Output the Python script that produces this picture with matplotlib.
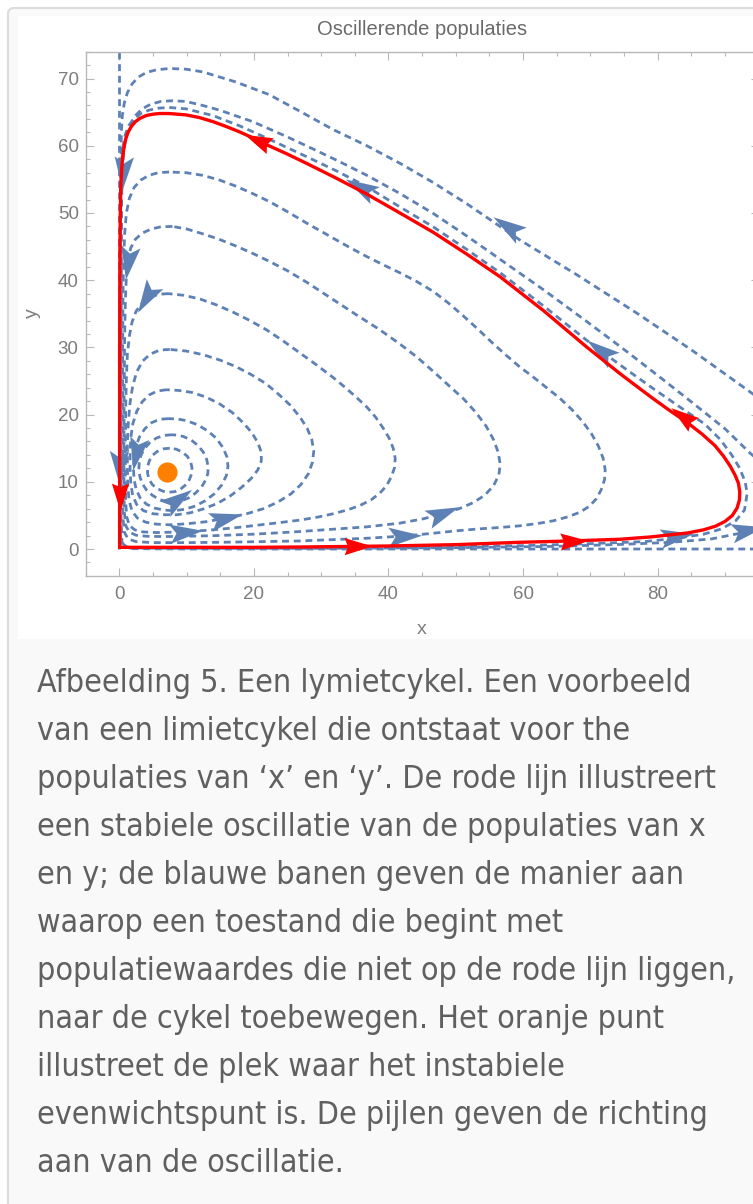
import numpy as np
import matplotlib.pyplot as plt
from matplotlib.markers import MarkerStyle
from matplotlib.path import Path
from matplotlib.transforms import Affine2D
from matplotlib.patches import FancyBboxPatch, Rectangle
from matplotlib.ticker import MultipleLocator

plt.rcParams['lines.scale_dashes'] = False

# evenwichtspunt
EQ_X, EQ_Y = 7.1, 11.5

# limietcykel (rood), tegen de klok in
CYCLE = [(0.05, 0.25), (10, 0.25), (20, 0.25), (27, 0.3), (40, 0.45), (50, 0.65),
         (59.5, 1.0), (67, 1.2), (74.4, 1.45), (79, 1.8), (81.8, 2.1), (84.5, 2.4),
         (86.8, 2.85), (88.6, 3.4), (90.0, 4.1), (91.1, 5.0), (91.8, 6.1), (92.15, 7.3),
         (92.2, 8.5), (92.0, 9.8), (91.5, 11.0), (90.8, 12.3), (89.8, 13.8), (88.5, 15.4),
         (86.6, 17.1), (84.3, 18.9), (81.8, 20.6), (79.3, 22.4), (76.9, 24.2), (74.4, 26.1),
         (71.9, 28.1), (69.4, 30.1), (66.2, 32.8), (63.0, 35.5), (59.8, 38.0), (56.6, 40.5),
         (51.6, 43.9), (46.7, 47.1), (41.7, 50.0), (36.8, 52.8), (32.4, 55.1), (28.0, 57.3),
         (24.9, 58.8), (21.8, 60.2), (19.8, 61.2), (17.8, 62.1), (15.8, 62.9), (13.9, 63.6),
         (11.9, 64.2), (9.9, 64.6), (7.4, 64.8), (6.0, 64.8), (5.0, 64.7), (4.0, 64.5),
         (3.1, 64.1), (2.4, 63.6), (1.8, 62.9), (1.3, 62.0), (0.95, 61.0), (0.7, 59.8),
         (0.5, 58.3), (0.35, 56.5), (0.22, 54.0), (0.15, 50.0), (0.1, 45.0), (0.07, 38.0),
         (0.05, 30.0), (0.05, 15.0), (0.05, 0.25)]

# banen binnen de cykel
RING_A = [(7.5, 15.0), (6.5, 14.9), (5.6, 14.5), (4.9, 13.9), (4.45, 13.1), (4.2, 12.2),
          (4.2, 11.3), (4.4, 10.4), (4.9, 9.6), (5.6, 9.0), (6.5, 8.6), (7.4, 8.45),
          (8.3, 8.55), (9.1, 8.9), (9.8, 9.5), (10.4, 10.3), (10.75, 11.2), (10.8, 12.1),
          (10.6, 13.0), (10.1, 13.8), (9.4, 14.4), (8.5, 14.85), (7.5, 15.0)]
RING_B = [(7.8, 17.0), (6.6, 16.9), (5.5, 16.5), (4.5, 15.8), (3.7, 14.9), (3.2, 13.9),
          (2.95, 12.8), (2.9, 11.7), (3.1, 10.6), (3.5, 9.6), (4.1, 8.7), (4.9, 8.0),
          (5.9, 7.4), (7.0, 7.05), (8.1, 6.95), (9.2, 7.15), (10.3, 7.6), (11.3, 8.3),
          (12.2, 9.2), (12.8, 10.2), (13.15, 11.2), (13.2, 12.2), (13.0, 13.3), (12.5, 14.4),
          (11.7, 15.4), (10.7, 16.2), (9.5, 16.75), (8.6, 16.95), (7.8, 17.0)]
RING_C = [(7.3, 19.4), (6.0, 19.3), (4.8, 18.8), (3.8, 17.9), (3.0, 16.7), (2.5, 15.3),
          (2.2, 13.7), (2.1, 12.0), (2.2, 10.3), (2.5, 8.9), (3.1, 7.6), (4.0, 6.7),
          (5.2, 6.1), (6.6, 5.8), (8.1, 5.7), (9.7, 5.9), (11.3, 6.4), (12.8, 7.2),
          (14.1, 8.2), (15.2, 9.5), (15.9, 10.9), (16.15, 12.3), (16.0, 13.7), (15.4, 15.1),
          (14.4, 16.5), (13.1, 17.6), (11.6, 18.5), (10.0, 19.1), (8.6, 19.35), (7.3, 19.4)]
RING_D = [(7.0, 23.7), (5.6, 23.5), (4.4, 22.9), (3.4, 21.9), (2.6, 20.5), (2.0, 18.6),
          (1.7, 16.5), (1.6, 14.3), (1.6, 12.0), (1.7, 9.8), (2.0, 7.9), (2.6, 6.6),
          (3.6, 5.7), (5.0, 5.25), (6.7, 5.1), (8.6, 5.1), (10.6, 5.4), (12.6, 6.0),
          (14.6, 6.8), (16.5, 7.9), (18.2, 9.2), (19.6, 10.5), (20.6, 11.8), (21.1, 13.1),
          (21.1, 14.4), (20.6, 15.8), (19.7, 17.3), (18.4, 18.8), (16.8, 20.3), (14.9, 21.6),
          (12.9, 22.6), (10.8, 23.3), (8.8, 23.6), (7.0, 23.7)]
RING_E = [(7.5, 29.7), (6.0, 29.6), (4.6, 29.0), (3.5, 28.0), (2.6, 26.4), (2.0, 24.3),
          (1.6, 21.8), (1.35, 18.9), (1.2, 15.8), (1.2, 12.6), (1.25, 9.6), (1.45, 7.3),
          (1.9, 5.6), (2.7, 4.6), (3.9, 4.0), (5.5, 3.7), (7.5, 3.6), (10.0, 3.75),
          (12.8, 4.05), (15.9, 4.6), (18.8, 5.2), (21.4, 6.0), (23.6, 7.0), (25.5, 8.2),
          (27.0, 9.6), (28.1, 11.2), (28.7, 12.9), (28.9, 14.6), (28.6, 16.3), (27.9, 18.0),
          (26.8, 19.7), (25.4, 21.4), (23.7, 23.0), (21.8, 24.6), (19.7, 25.9), (17.4, 27.1),
          (15.0, 28.1), (12.5, 28.9), (10.0, 29.45), (7.5, 29.7)]
RING_F = [(7.3, 38.0), (5.8, 37.9), (4.5, 37.4), (3.4, 36.6), (2.5, 35.4), (1.9, 33.8),
          (1.5, 31.7), (1.2, 29.0), (1.05, 25.5), (0.95, 21.0), (0.9, 16.0), (0.9, 11.0),
          (0.95, 7.0), (1.1, 4.8), (1.5, 3.5), (2.3, 2.85), (3.5, 2.55), (5.5, 2.45),
          (7.8, 2.5), (9.9, 2.6), (12.5, 2.75), (15.0, 2.95), (18.0, 3.25), (21.0, 3.6),
          (24.0, 3.95), (26.8, 4.3), (29.5, 4.75), (31.8, 5.25), (34.0, 5.85), (35.8, 6.5),
          (37.4, 7.3), (38.7, 8.3), (39.7, 9.4), (40.4, 10.7), (40.9, 12.1), (41.0, 13.5),
          (40.7, 15.0), (40.1, 16.5), (39.2, 18.0), (38.1, 19.6), (36.8, 21.1), (35.2, 22.6),
          (33.5, 24.1), (31.8, 25.5), (29.3, 27.4), (26.8, 29.2), (24.3, 31.0), (21.9, 32.6),
          (19.4, 34.0), (17.0, 35.2), (14.5, 36.3), (12.0, 37.2), (9.6, 37.75), (7.3, 38.0)]
RING_G = [(7.9, 48.0), (6.2, 47.95), (4.7, 47.6), (3.4, 47.0), (2.4, 46.1), (1.7, 44.8),
          (1.3, 43.0), (1.05, 40.5), (0.9, 37.0), (0.8, 32.0), (0.75, 26.0), (0.7, 20.0),
          (0.7, 14.0), (0.7, 9.0), (0.75, 5.5), (0.95, 3.5), (1.5, 2.5), (2.5, 2.05),
          (4.0, 1.9), (6.5, 1.85), (9.9, 1.9), (14.5, 2.0), (19.8, 2.2), (23.5, 2.4),
          (26.8, 2.6), (31.8, 2.95), (36.8, 3.3), (41.7, 3.85), (45.2, 4.5), (48.1, 5.3),
          (50.5, 6.0), (52.6, 6.9), (54.3, 8.0), (55.6, 9.4), (56.4, 11.0), (56.6, 12.6),
          (56.3, 14.4), (55.6, 16.3), (54.5, 18.3), (53.0, 20.3), (51.2, 22.3), (49.1, 24.2),
          (46.8, 26.3), (44.3, 28.5), (41.7, 30.5), (38.6, 32.7), (35.3, 34.8), (31.8, 37.1),
          (28.0, 39.6), (25.0, 41.4), (22.3, 42.8), (19.8, 44.0), (17.3, 45.1), (14.8, 46.1),
          (12.4, 46.9), (10.1, 47.6), (7.9, 48.0)]
RING_H = [(7.4, 56.1), (5.8, 56.0), (4.4, 55.6), (3.2, 54.9), (2.2, 53.8), (1.5, 52.2),
          (1.05, 50.0), (0.8, 47.0), (0.65, 43.0), (0.55, 38.0), (0.5, 30.0), (0.5, 22.0),
          (0.5, 14.0), (0.5, 8.0), (0.55, 4.5), (0.75, 2.5), (1.3, 1.5), (2.5, 1.1),
          (5.0, 0.95), (10.0, 0.95), (15.0, 1.0), (21.0, 1.1), (26.8, 1.2), (31.8, 1.4),
          (36.8, 1.6), (42.5, 1.95), (46.7, 2.35), (50.0, 2.7), (53.5, 3.0), (56.5, 3.2),
          (59.5, 3.45), (62.2, 3.8), (64.5, 4.2), (66.7, 4.8), (68.5, 5.5), (69.9, 6.4),
          (70.9, 7.5), (71.6, 8.8), (72.1, 10.3), (72.2, 11.8), (71.9, 13.5), (71.2, 15.3),
          (70.2, 17.1), (68.9, 18.9), (67.3, 20.7), (65.5, 22.4), (63.5, 24.0), (61.5, 25.6),
          (59.5, 27.1), (57.4, 28.9), (55.3, 30.8), (53.2, 32.8), (51.1, 34.7), (48.9, 36.6),
          (46.7, 38.3), (44.2, 39.8), (41.7, 41.1), (39.2, 42.3), (36.8, 43.5), (34.0, 45.0),
          (31.0, 46.7), (28.0, 48.4), (24.8, 50.3), (22.3, 51.7), (19.8, 52.9), (17.3, 54.0),
          (14.9, 54.9), (12.4, 55.6), (9.9, 56.0), (7.4, 56.1)]

# banen buiten de cykel
T1 = [(97, 21.0), (93.7, 23.4), (85.2, 29.5), (76.9, 35.1), (68.0, 40.8), (59.5, 46.0),
      (51.6, 51.4), (46.7, 54.5), (41.7, 57.4), (36.8, 60.0), (31.8, 62.4), (26.9, 65.1),
      (22.3, 67.6), (17.3, 69.5), (12.4, 71.0), (9.9, 71.4), (7.4, 71.5), (5.5, 71.3),
      (4.0, 70.9), (2.8, 70.2), (1.9, 69.2), (1.2, 67.9), (0.75, 66.4), (0.45, 64.5),
      (0.3, 62.0), (0.2, 55.0), (0.15, 40.0), (0.1, 20.0), (0.1, 5.0), (0.2, 1.0),
      (1.5, 0.05), (10, 0.0), (40, 0.0), (70, 0.0), (97, 0.0)]
T2 = [(97, 11.5), (93.7, 14.3), (90.0, 17.9), (85.0, 21.9), (80.3, 25.6), (75.0, 29.7),
      (69.4, 33.9), (63.0, 38.6), (56.6, 43.1), (51.6, 46.6), (46.7, 49.9), (41.7, 52.9),
      (36.8, 55.6), (32.4, 57.8), (28.0, 59.9), (24.8, 61.4), (19.8, 63.6), (14.9, 65.3),
      (12.4, 66.0), (9.9, 66.6), (7.9, 66.7), (6.2, 66.6), (4.7, 66.2), (3.4, 65.5),
      (2.4, 64.5), (1.6, 63.2), (1.05, 61.6), (0.7, 59.5), (0.45, 56.5), (0.35, 52.0),
      (0.3, 40.0), (0.25, 20.0), (0.25, 5.0), (0.4, 0.9), (1.5, 0.15), (10, 0.1), (30, 0.1),
      (50, 0.2), (65, 0.4), (75, 0.7), (82, 1.0), (88, 1.5), (92, 2.3), (97, 3.6)]
T3 = [(40, 0.2), (60, 0.5), (70, 0.8), (78, 1.1), (82.8, 1.6), (86.8, 2.2), (89.5, 3.0),
      (91.6, 4.2), (92.9, 5.8), (93.3, 8.3), (93.0, 10.0), (92.2, 12.0), (91.0, 14.0),
      (89.3, 16.3), (87.0, 18.6), (84.5, 20.3), (79.3, 23.9), (74.4, 27.4), (69.4, 31.1),
      (63.0, 36.2), (56.6, 41.1), (51.6, 44.6), (46.7, 47.9), (41.7, 50.9), (36.8, 53.9),
      (32.4, 56.2), (28.0, 58.3), (21.8, 61.2), (17.8, 63.0), (13.9, 64.5), (9.9, 65.5),
      (7.4, 65.7), (5.8, 65.6), (4.4, 65.3), (3.2, 64.8), (2.2, 64.0), (1.4, 63.0),
      (0.9, 61.7), (0.55, 59.9), (0.35, 57.5), (0.25, 54.0), (0.2, 50.0), (0.2, 35.0)]
Y_AXIS = [(0, 74), (0, 0)]

# pijlpunten: positie en richting
BLUE_AX = [57.6, 35.8, 71.4, 0.6, 1.3, 4.0, 2.5, 0.0, 8.7, 15.9, 9.9, 48.1, 42.5, 82.8, 93.4]
BLUE_AY = [48.0, 53.9, 29.6, 56.0, 42.5, 37.3, 14.2, 12.2, 7.5, 4.6, 2.6, 5.3, 1.9, 2.0, 2.8]
BLUE_DX = [-1, -1, -1, -0.05, -0.15, -0.6, -0.2, 0, 1, 1, 1, 1, 1, 1, 1]
BLUE_DY = [0.66, 0.55, 0.75, -1, -1, -1, -1, -1, 0.7, 0.25, 0.1, 0.4, 0.05, 0.15, 0.2]

RED_AX = [20.5, 0.05, 35.5, 67.5, 83.6]
RED_AY = [60.8, 7.8, 0.4, 1.2, 19.8]
RED_DX = [-1, 0, 1, 1, -1]
RED_DY = [0.45, -1, 0.01, 0.04, 0.75]

X_TICKS = [0, 20, 40, 60, 80]
Y_TICKS = [0, 10, 20, 30, 40, 50, 60, 70]

CAPTION = [
    "Afbeelding 5. Een lymietcykel. Een voorbeeld",
    "van een limietcykel die ontstaat voor the",
    "populaties van \u2018x\u2019 en \u2018y\u2019. De rode lijn illustreert",
    "een stabiele oscillatie van de populaties van x",
    "en y; de blauwe banen geven de manier aan",
    "waarop een toestand die begint met",
    "populatiewaardes die niet op de rode lijn liggen,",
    "naar de cykel toebewegen. Het oranje punt",
    "illustreet de plek waar het instabiele",
    "evenwichtspunt is. De pijlen geven de richting",
    "aan van de oscillatie.",
]

BLUE = "#5e81b5"
RED = "#ff0000"
ORANGE = "#ff8000"
FRAME = "#b8b8b8"
LABEL = "#7d7d7d"

BLUE_HEAD = Path([(1, 0), (-1, 0.58), (-0.6, 0), (-1, -0.58), (1, 0)],
                 [Path.MOVETO, Path.LINETO, Path.LINETO, Path.LINETO, Path.CLOSEPOLY])
RED_HEAD = Path([(1, 0), (-1, 0.62), (-0.75, 0), (-1, -0.62), (1, 0)],
                [Path.MOVETO, Path.LINETO, Path.LINETO, Path.LINETO, Path.CLOSEPOLY])


def orbit(ax, pts, **kw):
    xy = np.array(pts, dtype=float)
    ax.plot(xy[:, 0], xy[:, 1], **kw)


def heads(ax, head, xs, ys, dxs, dys, color, size, z):
    for x, y, u, v in zip(xs, ys, dxs, dys):
        ang = np.degrees(np.arctan2(v, u))
        m = MarkerStyle(head, transform=Affine2D().rotate_deg(ang))
        ax.plot(x, y, marker=m, ms=size, color=color, mew=0, ls="none", zorder=z)


fig = plt.figure(figsize=(7.53, 12.04), dpi=100)

# achtergrond in pixelcoordinaten
bg = fig.add_axes([0, 0, 1, 1], zorder=0)
bg.set_xlim(0, 753)
bg.set_ylim(1204, 0)
bg.axis("off")
bg.add_patch(FancyBboxPatch((8, 8), 780, 1230, boxstyle="round,pad=0,rounding_size=6",
                            fc="#f9f9f9", ec="#dcdcdc", lw=1.5))
bg.add_patch(Rectangle((18, 16), 760, 623, fc="white", ec="none"))

bg.text(422, 35, "Oscillerende populaties", ha="center", va="baseline",
        fontsize=14.5, color="#6a6a6a", family="Liberation Sans")
bg.text(422, 629, "x", ha="center", va="center", fontsize=14, color=LABEL,
        family="Liberation Sans")
bg.text(32, 313, "y", ha="center", va="center", rotation=90, fontsize=14,
        color=LABEL, family="Liberation Sans")

for i, line in enumerate(CAPTION):
    bg.text(37, 692.3 + i * 47.95, line, ha="left", va="baseline", fontsize=23.0,
            color="#606060", family="DejaVu Sans", fontstretch="condensed")

# grafiek
ax = fig.add_axes([0.11375, 0.52168, 0.8937, 0.43538], zorder=1)
ax.set_facecolor("white")
ax.set_xlim(-5, 95)
ax.set_ylim(-4, 74)

dash = dict(color=BLUE, lw=2.0, ls=(0, (5.0, 3.4)), zorder=2,
            solid_capstyle="butt", dash_capstyle="butt")
for ring in [RING_A, RING_B, RING_C, RING_D, RING_E, RING_F, RING_G, RING_H]:
    orbit(ax, ring, **dash)
for path in [Y_AXIS, T1, T2, T3]:
    orbit(ax, path, **dash)
heads(ax, BLUE_HEAD, BLUE_AX, BLUE_AY, BLUE_DX, BLUE_DY, BLUE, 24, 3)

orbit(ax, CYCLE, color=RED, lw=2.4, zorder=4, solid_joinstyle="round")
heads(ax, RED_HEAD, RED_AX, RED_AY, RED_DX, RED_DY, RED, 20, 5)

ax.plot([EQ_X], [EQ_Y], "o", ms=14.5, color=ORANGE, mew=0, zorder=6)

ax.set_xticks(X_TICKS)
ax.set_yticks(Y_TICKS)
ax.xaxis.set_minor_locator(MultipleLocator(5))
ax.yaxis.set_minor_locator(MultipleLocator(2))
ax.tick_params(which="both", direction="in", top=True, right=True, color=FRAME,
               width=0.8, labelcolor=LABEL, labelsize=13.5)
ax.tick_params(which="major", length=6)
ax.tick_params(which="minor", length=3.2)
ax.tick_params(axis="x", pad=7)
ax.tick_params(axis="y", pad=5)
for lab in ax.get_xticklabels() + ax.get_yticklabels():
    lab.set_family("Liberation Sans")
for sp in ax.spines.values():
    sp.set_color(FRAME)
    sp.set_linewidth(1.0)

fig.savefig("out.png", dpi=100)
